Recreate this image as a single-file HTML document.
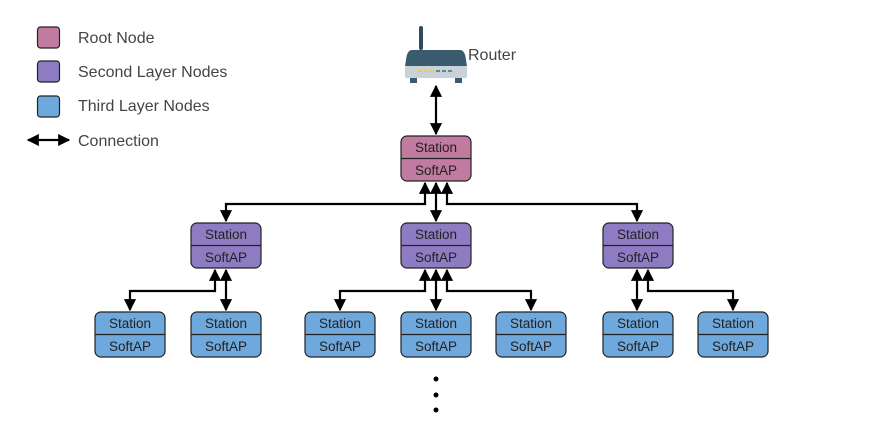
<!DOCTYPE html>
<html><head><style>body{margin:0;background:#fff}svg{display:block}</style></head><body>
<svg width="872" height="437" viewBox="0 0 872 437" xmlns="http://www.w3.org/2000/svg" font-family="Liberation Sans, sans-serif">
<defs>
<marker id="a" viewBox="0 0 10 10" refX="9" refY="5" markerWidth="5.5" markerHeight="5.5" orient="auto-start-reverse"><path d="M0 0L10 5L0 10z" fill="#000"/></marker>
</defs>
<rect width="872" height="437" fill="#fff"/>
<g stroke="#222" stroke-width="1.2">
<rect x="37.5" y="27" width="22" height="21" rx="3" fill="#c27ba0"/>
<rect x="37.5" y="61" width="22" height="21" rx="3" fill="#8e7cc3"/>
<rect x="37.5" y="96" width="22" height="21" rx="3" fill="#6fa8dc"/>
</g>
<g font-size="16" fill="#444">
<text x="78" y="43">Root Node</text>
<text x="78" y="77">Second Layer Nodes</text>
<text x="78" y="111">Third Layer Nodes</text>
<text x="78" y="146">Connection</text>
<text x="468" y="60">Router</text>
</g>
<line x1="28" y1="140" x2="69" y2="140" stroke="#000" stroke-width="2.2" marker-start="url(#a)" marker-end="url(#a)"/>
<rect x="419" y="26" width="4" height="24" rx="2" fill="#2f4b5e"/>
<path d="M412 50 H460 Q465 50 466 60 L467 66 H405 L406 60 Q407 50 412 50z" fill="#3a5a6e"/>
<rect x="405" y="66" width="62" height="12" rx="2" fill="#c9d2d8"/>
<g fill="#f2c94c"><rect x="418" y="70" width="4" height="2"/><rect x="424" y="70" width="4" height="2"/><rect x="430" y="70" width="4" height="2"/></g>
<g fill="#5f8a8b"><rect x="436" y="70" width="4" height="2"/><rect x="442" y="70" width="4" height="2"/><rect x="448" y="70" width="4" height="2"/></g>
<rect x="410" y="78" width="7" height="5" fill="#3a5a6e"/><rect x="455" y="78" width="7" height="5" fill="#3a5a6e"/>
<g fill="none" stroke="#000" stroke-width="2.2">
<line x1="436" y1="86" x2="436" y2="134" marker-start="url(#a)" marker-end="url(#a)"/>
<polyline points="425,183 425,204 226,204 226,221" marker-start="url(#a)" marker-end="url(#a)"/>
<line x1="436" y1="183" x2="436" y2="221" marker-start="url(#a)" marker-end="url(#a)"/>
<polyline points="447,183 447,204 637,204 637,221" marker-start="url(#a)" marker-end="url(#a)"/>
<polyline points="215,270 215,291 130,291 130,310" marker-start="url(#a)" marker-end="url(#a)"/>
<line x1="226" y1="270" x2="226" y2="310" marker-start="url(#a)" marker-end="url(#a)"/>
<polyline points="425,270 425,291 340,291 340,310" marker-start="url(#a)" marker-end="url(#a)"/>
<line x1="436" y1="270" x2="436" y2="310" marker-start="url(#a)" marker-end="url(#a)"/>
<polyline points="447,270 447,291 531,291 531,310" marker-start="url(#a)" marker-end="url(#a)"/>
<line x1="637" y1="270" x2="637" y2="310" marker-start="url(#a)" marker-end="url(#a)"/>
<polyline points="648,270 648,291 733,291 733,310" marker-start="url(#a)" marker-end="url(#a)"/>
</g>
<g fill="#000"><circle cx="436" cy="379" r="2.5"/><circle cx="436" cy="395" r="2.5"/><circle cx="436" cy="410" r="2.5"/></g>
<g font-size="13.5" fill="#222" text-anchor="middle">
<g stroke="#222" stroke-width="1.2">
<rect x="401" y="136" width="70" height="45" rx="6" fill="#c27ba0"/>
<rect x="191" y="223" width="70" height="45" rx="6" fill="#8e7cc3"/>
<rect x="401" y="223" width="70" height="45" rx="6" fill="#8e7cc3"/>
<rect x="603" y="223" width="70" height="45" rx="6" fill="#8e7cc3"/>
<rect x="95" y="312" width="70" height="45" rx="6" fill="#6fa8dc"/>
<rect x="191" y="312" width="70" height="45" rx="6" fill="#6fa8dc"/>
<rect x="305" y="312" width="70" height="45" rx="6" fill="#6fa8dc"/>
<rect x="401" y="312" width="70" height="45" rx="6" fill="#6fa8dc"/>
<rect x="496" y="312" width="70" height="45" rx="6" fill="#6fa8dc"/>
<rect x="603" y="312" width="70" height="45" rx="6" fill="#6fa8dc"/>
<rect x="698" y="312" width="70" height="45" rx="6" fill="#6fa8dc"/>
<line x1="401" y1="158.5" x2="471" y2="158.5"/>
<line x1="191" y1="245.5" x2="261" y2="245.5"/>
<line x1="401" y1="245.5" x2="471" y2="245.5"/>
<line x1="603" y1="245.5" x2="673" y2="245.5"/>
<line x1="95" y1="334.5" x2="165" y2="334.5"/>
<line x1="191" y1="334.5" x2="261" y2="334.5"/>
<line x1="305" y1="334.5" x2="375" y2="334.5"/>
<line x1="401" y1="334.5" x2="471" y2="334.5"/>
<line x1="496" y1="334.5" x2="566" y2="334.5"/>
<line x1="603" y1="334.5" x2="673" y2="334.5"/>
<line x1="698" y1="334.5" x2="768" y2="334.5"/>
</g>
<text x="436" y="152">Station</text><text x="436" y="175">SoftAP</text>
<text x="226" y="239">Station</text><text x="226" y="262">SoftAP</text>
<text x="436" y="239">Station</text><text x="436" y="262">SoftAP</text>
<text x="638" y="239">Station</text><text x="638" y="262">SoftAP</text>
<text x="130" y="328">Station</text><text x="130" y="351">SoftAP</text>
<text x="226" y="328">Station</text><text x="226" y="351">SoftAP</text>
<text x="340" y="328">Station</text><text x="340" y="351">SoftAP</text>
<text x="436" y="328">Station</text><text x="436" y="351">SoftAP</text>
<text x="531" y="328">Station</text><text x="531" y="351">SoftAP</text>
<text x="638" y="328">Station</text><text x="638" y="351">SoftAP</text>
<text x="733" y="328">Station</text><text x="733" y="351">SoftAP</text>
</g>
</svg>
</body></html>
